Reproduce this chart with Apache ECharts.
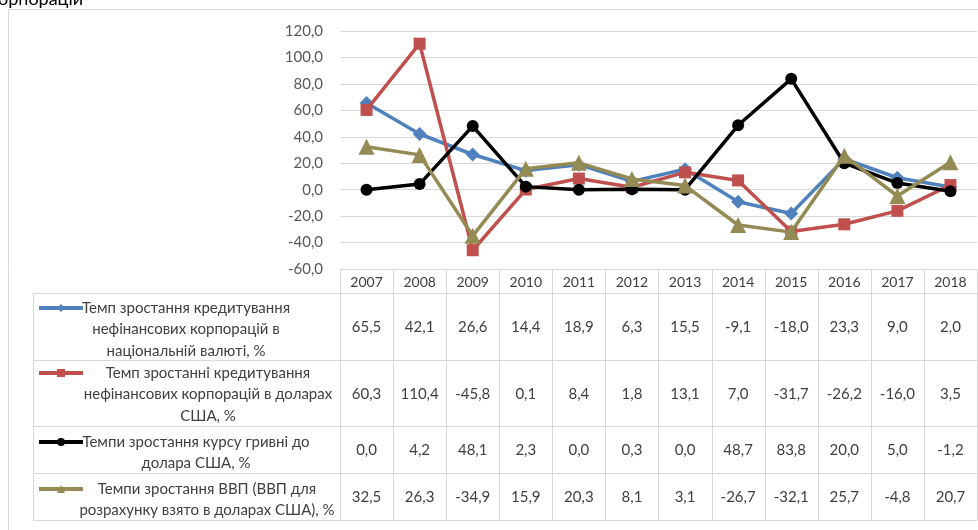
<!DOCTYPE html>
<html><head><meta charset="utf-8">
<script src="https://cdn.jsdelivr.net/npm/echarts@6/dist/echarts.min.js"></script>
<style>html,body{margin:0;padding:0;background:#fff;overflow:hidden}#c{width:978px;height:530px}</style>
</head><body><div id="c"></div>
<script>
const years = ['2007','2008','2009','2010','2011','2012','2013','2014','2015','2016','2017','2018'];
const seriesNames = [
  'Темп зростання кредитування нефінансових корпорацій в національній валюті, %',
  'Темп зростанні кредитування нефінансових корпорацій в доларах США, %',
  'Темпи зростання курсу гривні до долара США, %',
  'Темпи зростання ВВП (ВВП для розрахунку взято в доларах США), %'
];
const legendLines = [
  ['Темп зростання кредитування', 'нефінансових корпорацій в', 'національній валюті, %'],
  ['Темп зростанні кредитування', 'нефінансових корпорацій в доларах', 'США, %'],
  ['Темпи зростання курсу гривні до', 'долара США, %'],
  ['Темпи зростання ВВП (ВВП для', 'розрахунку взято в доларах США), %']
];
const creditNational = [65.5, 42.1, 26.6, 14.4, 18.9, 6.3, 15.5, -9.1, -18.0, 23.3, 9.0, 2.0];
const creditUsd = [60.3, 110.4, -45.8, 0.1, 8.4, 1.8, 13.1, 7.0, -31.7, -26.2, -16.0, 3.5];
const uahRate = [0.0, 4.2, 48.1, 2.3, 0.0, 0.3, 0.0, 48.7, 83.8, 20.0, 5.0, -1.2];
const gdpGrowth = [32.5, 26.3, -34.9, 15.9, 20.3, 8.1, 3.1, -26.7, -32.1, 25.7, -4.8, 20.7];
const yMin = -60, yMax = 120, yStep = 20;

const allData = [creditNational, creditUsd, uahRate, gdpGrowth];
const colors = ['#4F81BD', '#C0504D', '#000000', '#948A54'];
const symbols = ['diamond', 'rect', 'circle', 'triangle'];
const symbolSizes = [14, 12, 12, 16];

const FONT = 'Lato, "Noto Sans", sans-serif';
const fmt = v => v.toFixed(1).replace('.', ',');

// layout of table rows (pixel rows below the plot)
const rowTops = [293, 360, 426, 473, 520];
const headerTop = 269;
const legendLeft = 33;
const iconY = [308, 373, 442, 489];
const textCenterX = [186, 208, 196, 207];
const LH = 21.5;

const chart = echarts.init(document.getElementById('c'));
const gridLeft = 340, gridRight = 1;

const option = {
  animation: false,
  backgroundColor: '#fff',
  grid: { left: gridLeft, right: gridRight, top: 31, bottom: 530 - headerTop },
  xAxis: {
    type: 'category', data: years, boundaryGap: true,
    axisLine: { show: true, lineStyle: { color: '#d9d9d9', width: 1 } },
    axisTick: { show: false },
    axisLabel: { color: '#404040', fontFamily: FONT, fontSize: 14, margin: 6 }
  },
  yAxis: {
    type: 'value', min: yMin, max: yMax, interval: yStep,
    axisLine: { show: false }, axisTick: { show: false },
    splitLine: { lineStyle: { color: '#d9d9d9', width: 1 } },
    axisLabel: { color: '#595959', fontFamily: FONT, fontSize: 15, margin: 17, formatter: v => fmt(v) }
  },
  legend: seriesNames.map((n, i) => ({
    data: [n], left: 37, top: iconY[i] - 5, itemWidth: 44, itemHeight: 10,
    selectedMode: false, formatter: () => '', padding: 0, itemGap: 0,
    lineStyle: { width: 4 }
  })),
  series: seriesNames.map((n, i) => ({
    name: n, type: 'line', data: allData[i],
    symbol: symbols[i], symbolSize: symbolSizes[i],
    lineStyle: { color: colors[i], width: 3.5 },
    itemStyle: { color: colors[i] },
    z: 2 + i
  }))
};
chart.setOption(option);

function buildTable() {
  const c0 = chart.convertToPixel({ xAxisIndex: 0 }, 0);
  const c1 = chart.convertToPixel({ xAxisIndex: 0 }, 1);
  const band = c1 - c0;
  const colLeft = c0 - band / 2;
  const colRight = colLeft + band * years.length;
  const lineStyle = { stroke: '#d9d9d9', lineWidth: 1 };
  const els = [];
  const L = (x1, y1, x2, y2) => els.push({ type: 'line', silent: true, shape: { x1, y1, x2, y2 }, style: lineStyle, z: 0 });
  // outer frame
  L(8.5, 9.5, 978, 9.5);
  L(8.5, 9.5, 8.5, 530);
  // horizontal table lines
  rowTops.forEach(y => L(legendLeft + 0.5, y + 0.5, colRight, y + 0.5));
  // vertical lines
  L(legendLeft + 0.5, rowTops[0], legendLeft + 0.5, rowTops[4] + 0.5);
  for (let k = 0; k <= years.length; k++) {
    const x = Math.round(colLeft + band * k) + 0.5;
    L(x, headerTop, x, rowTops[4] + 0.5);
  }
  // values
  allData.forEach((arr, r) => {
    const cy = (rowTops[r] + rowTops[r + 1]) / 2 + 1;
    arr.forEach((v, k) => {
      els.push({ type: 'text', silent: true, x: chart.convertToPixel({ xAxisIndex: 0 }, k), y: cy,
        style: { text: fmt(v), fill: '#404040', font: '15px ' + FONT, align: 'center', verticalAlign: 'middle' } });
    });
  });
  // legend texts
  legendLines.forEach((lines, r) => {
    lines.forEach((t, j) => {
      els.push({ type: 'text', silent: true, x: textCenterX[r], y: iconY[r] + j * LH,
        style: { text: t, fill: '#404040', font: '15px ' + FONT, align: 'center', verticalAlign: 'middle' } });
    });
  });
  // cut-off title at top
  els.push({ type: 'text', silent: true, x: -11, y: 8,
    style: { text: 'корпорацій', fill: '#000', font: '18px ' + FONT, align: 'left', verticalAlign: 'bottom' } });
  chart.setOption({ graphic: { elements: els } });
}
buildTable();
</script>
</body></html>
